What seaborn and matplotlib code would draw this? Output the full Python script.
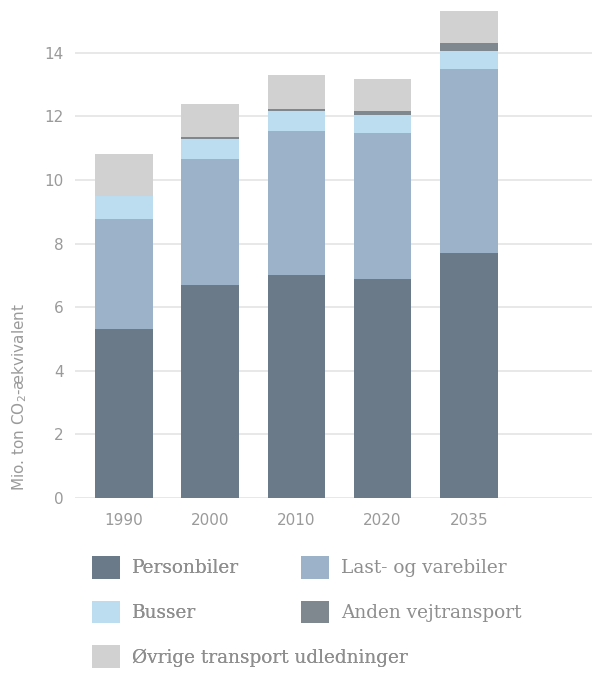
import matplotlib
matplotlib.use("Agg")
import matplotlib.pyplot as plt
from matplotlib.patches import Patch
import seaborn as sns
import pandas as pd
import numpy as np

years = ["1990", "2000", "2010", "2020", "2035"]
personbiler = [5.30, 6.70, 7.00, 6.89, 7.70]
last_varebiler = [3.47, 3.96, 4.54, 4.59, 5.79]
busser = [0.73, 0.63, 0.63, 0.57, 0.57]
anden_vejtransport = [0.00, 0.06, 0.05, 0.12, 0.25]
oevrige = [1.32, 1.04, 1.08, 1.00, 1.00]

series_names = ["Personbiler", "Last- og varebiler", "Busser",
                "Anden vejtransport", "Øvrige transport udledninger"]
series_values = [personbiler, last_varebiler, busser, anden_vejtransport, oevrige]
colors = ["#6b7a89", "#9bb2c8", "#bcdcf0", "#7f878f", "#d2d1d1"]

sns.set_theme(style="white")
plt.rcParams["font.family"] = ["DejaVu Sans"]

fig = plt.figure(figsize=(5.95, 6.73), dpi=100)
ax = fig.add_axes([75 / 595, 1 - 498 / 673, (592 - 75) / 595, 498 / 673])

# cumulative totals, drawn from the top layer down so lower layers cover upper ones
cum = np.cumsum(np.array(series_values), axis=0)
for i in range(len(series_names) - 1, -1, -1):
    d = pd.DataFrame({"year": years, "value": cum[i]})
    sns.barplot(data=d, x="year", y="value", color=colors[i], width=0.67,
                saturation=1, linewidth=0, edgecolor="none", ax=ax, zorder=3)

ax.set_xlim(-0.57, 5.43)
ax.set_ylim(0, 498 / 31.8)
ax.set_yticks([0, 2, 4, 6, 8, 10, 12, 14])
ax.yaxis.grid(True, color="#e4e4e4", linewidth=1.2, zorder=0)
ax.set_axisbelow(True)
for s in ax.spines.values():
    s.set_visible(False)
ax.set_xlabel("")
ax.set_ylabel("")
ax.tick_params(axis="both", length=0, labelsize=11, labelcolor="#9a9a9a")
ax.tick_params(axis="y", pad=8)
ax.tick_params(axis="x", pad=11)

fig.text(20 / 595, 1 - 397 / 673, "Mio. ton CO$_2$-ækvivalent", rotation=90,
         ha="center", va="center", fontsize=11, color="#9a9a9a")

handles = [Patch(facecolor=c, edgecolor="none") for c in colors]
legend_kw = dict(loc="upper left", frameon=False, borderpad=0, borderaxespad=0,
                 prop={"family": "DejaVu Serif", "size": 13.3},
                 handlelength=1.5, handleheight=1.5, handletextpad=0.65,
                 labelspacing=1.2, labelcolor="#8e8e8e")
col1 = [0, 2, 4]
col2 = [1, 3]
leg1 = fig.legend([handles[i] for i in col1], [series_names[i] for i in col1],
                  bbox_to_anchor=(92 / 595, 1 - 556 / 673), **legend_kw)
fig.add_artist(leg1)
leg2 = fig.legend([handles[i] for i in col2], [series_names[i] for i in col2],
                  bbox_to_anchor=(301 / 595, 1 - 556 / 673), **legend_kw)

fig.savefig("out.png", dpi=100)
